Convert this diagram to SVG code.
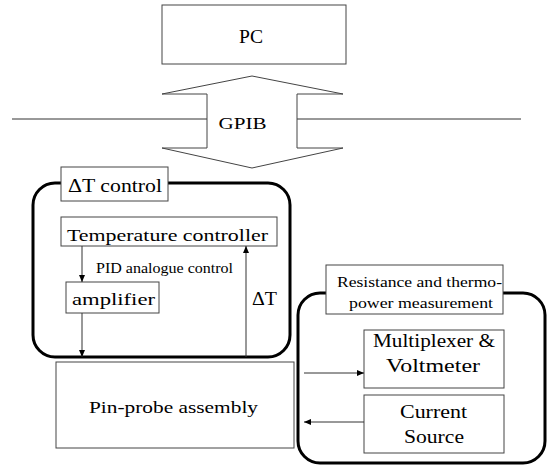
<svg xmlns="http://www.w3.org/2000/svg" width="547" height="467" viewBox="0 0 547 467">
<defs>
<marker id="ah" markerWidth="8" markerHeight="8" refX="7" refY="4" orient="auto" markerUnits="userSpaceOnUse">
<path d="M0,1 L7,4 L0,7 Z" fill="#000"/>
</marker>
<style>
.box{fill:#fff;stroke:#444;stroke-width:1}
.grp{fill:none;stroke:#000;stroke-width:3}
text{font-family:'Liberation Serif','Times New Roman',serif;fill:#000}
.c{stroke:#333;stroke-width:1;fill:none}
</style>
</defs>
<rect width="547" height="467" fill="#fff"/>

<g id="pc">
<rect class="box" x="162" y="5" width="184" height="59"/>
<text x="251" y="43" font-size="19" text-anchor="middle" textLength="24" lengthAdjust="spacingAndGlyphs">PC</text>
</g>

<g id="gpib">
<line class="c" x1="12" y1="119" x2="207" y2="119"/>
<line class="c" x1="297" y1="119" x2="521" y2="119"/>
<polygon class="box" points="252,76 343,94 297,94 297,148 343,148 252,168 162,148 207,148 207,94 162,94"/>
<text x="242.5" y="129" font-size="17" text-anchor="middle" textLength="48" lengthAdjust="spacingAndGlyphs">GPIB</text>
</g>

<g id="dt-control-group">
<rect class="grp" x="33" y="183" width="257" height="174" rx="22" ry="22"/>
<rect class="box" x="61" y="167" width="107" height="34"/>
<text x="115" y="192" font-size="18" text-anchor="middle" textLength="94" lengthAdjust="spacingAndGlyphs">ΔT control</text>
</g>

<g id="temp-controller">
<rect class="box" x="61" y="217" width="216" height="29"/>
<text x="167.5" y="240.5" font-size="17" text-anchor="middle" textLength="201" lengthAdjust="spacingAndGlyphs">Temperature controller</text>
</g>

<g id="amplifier">
<rect class="box" x="66" y="282" width="93" height="31"/>
<text x="113.5" y="305" font-size="17" text-anchor="middle" textLength="83" lengthAdjust="spacingAndGlyphs">amplifier</text>
</g>

<g id="pin-probe">
<rect class="box" x="56" y="362" width="238" height="86"/>
<text x="173.5" y="413" font-size="17" text-anchor="middle" textLength="169" lengthAdjust="spacingAndGlyphs">Pin-probe assembly</text>
</g>

<g id="measurement-group">
<rect class="grp" x="298" y="293" width="247" height="170" rx="22" ry="22"/>
<rect class="box" x="326" y="265" width="177" height="49"/>
<text x="419.5" y="287" font-size="14" text-anchor="middle" textLength="165" lengthAdjust="spacingAndGlyphs">Resistance and thermo-</text>
<text x="421" y="308" font-size="14" text-anchor="middle" textLength="144" lengthAdjust="spacingAndGlyphs">power measurement</text>
</g>

<g id="multiplexer">
<rect class="box" x="364" y="330" width="140" height="58"/>
<text x="434" y="347" font-size="18" text-anchor="middle" textLength="122" lengthAdjust="spacingAndGlyphs">Multiplexer &amp;</text>
<text x="433" y="372" font-size="18" text-anchor="middle" textLength="94" lengthAdjust="spacingAndGlyphs">Voltmeter</text>
</g>

<g id="current-source">
<rect class="box" x="364" y="395" width="140" height="58"/>
<text x="433.5" y="418" font-size="18" text-anchor="middle" textLength="67" lengthAdjust="spacingAndGlyphs">Current</text>
<text x="434" y="443" font-size="18" text-anchor="middle" textLength="60" lengthAdjust="spacingAndGlyphs">Source</text>
</g>

<g id="connectors">
<line class="c" x1="82" y1="246" x2="82" y2="282" marker-end="url(#ah)"/>
<line class="c" x1="82" y1="313" x2="82" y2="357" marker-end="url(#ah)"/>
<line class="c" x1="246" y1="357" x2="246" y2="246" marker-end="url(#ah)"/>
<line class="c" x1="304" y1="373" x2="364" y2="373" marker-end="url(#ah)"/>
<line class="c" x1="364" y1="422" x2="304" y2="422" marker-end="url(#ah)"/>
<text x="164.5" y="273" font-size="14" text-anchor="middle" textLength="137" lengthAdjust="spacingAndGlyphs">PID analogue control</text>
<text x="264.5" y="305" font-size="18" text-anchor="middle" textLength="25" lengthAdjust="spacingAndGlyphs">ΔT</text>
</g>
</svg>
